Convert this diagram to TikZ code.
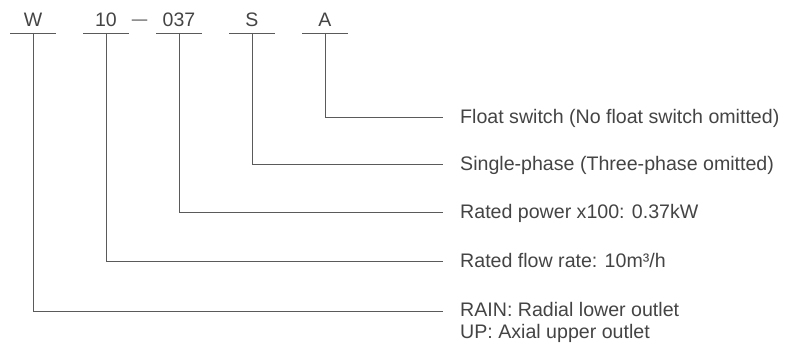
\documentclass[tikz,border=0pt]{standalone}
\usepackage{fontspec}
\setmainfont{Liberation Sans}
\definecolor{txt}{HTML}{444444}
\definecolor{ln}{HTML}{5a5a5a}
\begin{document}
\begin{tikzpicture}[x=1pt,y=-1pt,
  code/.style={anchor=base,inner sep=0pt,font=\fontsize{19.5}{22}\selectfont,text=txt},
  desc/.style={anchor=base west,inner sep=0pt,font=\fontsize{19.6}{22}\selectfont,text=txt},
  conn/.style={draw=ln,line width=0.9pt},
  uline/.style={draw=ln,line width=0.9pt}]
\useasboundingbox (0,0) rectangle (785,350);
% code letters
\node[code] (cW) at (33,26.5) {W};
\node[code] (c10) at (106,26.5) {10};
\node[code,font=\fontsize{15.5}{22}\selectfont] (cdash) at (139.5,24.5) {\textemdash};
\node[code] (c037) at (179,26.5) {037};
\node[code] (cS) at (252,26.5) {S};
\node[code] (cA) at (325,26.5) {A};
% underline coordinates
\foreach \n/\x in {W/33,10/106,037/179,S/252,A/325}{
  \coordinate (u\n) at (\x,33);
  \draw[uline] (\x-23,33) -- (\x+23,33);
}
% descriptions
\node[desc] (dA) at (460,123.3) {Float switch (No float switch omitted)};
\node[desc] (dS) at (460,170.5) {Single-phase (Three-phase omitted)};
\node[desc] (d037) at (460,218.5) {Rated power x100: 0.37kW};
\node[desc] (d10) at (460,267.5) {Rated flow rate: 10m³/h};
\node[desc] (dW) at (460,316) {RAIN: Radial lower outlet};
\node[desc] (dW2) at (460,338) {UP: Axial upper outlet};
% line ends
\coordinate (eA) at (443,117);
\coordinate (eS) at (443,164);
\coordinate (e037) at (443,212);
\coordinate (e10) at (443,261);
\coordinate (eW) at (443,311);
\foreach \n in {A,S,037,10,W}{
  \draw[conn] (u\n) |- (e\n);
}
\end{tikzpicture}
\end{document}
